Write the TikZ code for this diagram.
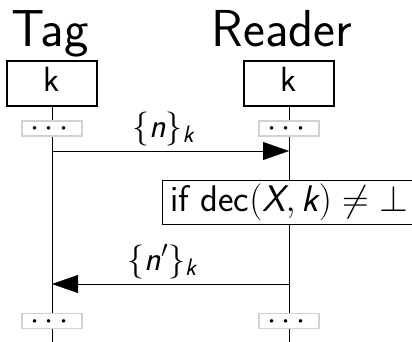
\RequirePackage{fix-cm}
\documentclass[tikz,border=0pt]{standalone}
\usepackage{amsmath}
\usetikzlibrary{arrows.meta,backgrounds}
\renewcommand\familydefault{\sfdefault}

\newcommand\bodysize{\fontsize{34}{40}\selectfont}
\newcommand\boxsize{\fontsize{35}{42}\selectfont}
\newcommand\checksize{\fontsize{37}{44}\selectfont}
\newcommand\headsize{\fontsize{52}{62}\selectfont}

\begin{document}
\begin{tikzpicture}[x=1pt,y=-1pt,line width=1.1pt,
  threadname/.style={font=\headsize,inner sep=0pt,anchor=base},
  threadbox/.style={draw,fill=white,minimum width=90pt,minimum height=45pt,
    inner sep=0pt,text height=26pt,text depth=9pt,font=\boxsize},
  gapbox/.style={draw=gray!35,fill=white,minimum width=60pt,minimum height=15pt,
    inner sep=0pt,text height=2pt,text depth=2pt,
    font=\fontsize{32.5}{38}\selectfont},
  msg/.style={-{Triangle[length=26pt,width=18pt]}},
  msglabel/.style={font=\bodysize,anchor=base,inner sep=0pt},
  callbox/.style={draw,fill=white,font=\checksize,text height=27.75pt,
    text depth=9.25pt,inner xsep=8pt,inner ysep=3.5pt}]

\useasboundingbox (0,0) rectangle (412,342);
\clip (0,0) rectangle (412,342);

% thread headers
\node[threadname] (tagname) at (50,47) {Tag};
\node[threadname] (readername) at (282,47) {Reader};
\node[threadbox] (tagk) at (52,83.5) {k};
\node[threadbox] (readerk) at (289,83.5) {k};

% elided parts of the threads
\newcommand\gapdots{\raisebox{-8.1pt}{$\cdots$}}
\node[gapbox] (taggap1) at (52,128.5) {\gapdots};
\node[gapbox] (readergap1) at (289,128.5) {\gapdots};
\node[gapbox] (taggap2) at (52,321) {\gapdots};
\node[gapbox] (readergap2) at (289,321) {\gapdots};

% lifelines
\coordinate (tagend) at (52,345);
\coordinate (readerend) at (289,345);
\begin{pgfonlayer}{background}
  \draw (tagk.south) -- (tagend);
  \draw (readerk.south) -- (readerend);
\end{pgfonlayer}

% Tag -> Reader
\coordinate (m1from) at (52,151);
\coordinate (m1to) at (289,151);
\draw[msg] (m1from) -- (m1to);
\node[msglabel] (m1label) at (163,137) {$\{\textit{n}\}_{\textit{k}}$};

% check on the reader side
\node[callbox] (check) at (289,202) {if dec$(\textit{X},\textit{k})\neq\mathord{\perp}$};

% Reader -> Tag
\coordinate (m2from) at (289,284);
\coordinate (m2to) at (52,284);
\draw[msg] (m2from) -- (m2to);
\node[msglabel] (m2label) at (162,270) {$\{\textit{n}'\}_{\textit{k}}$};
\end{tikzpicture}
\end{document}
